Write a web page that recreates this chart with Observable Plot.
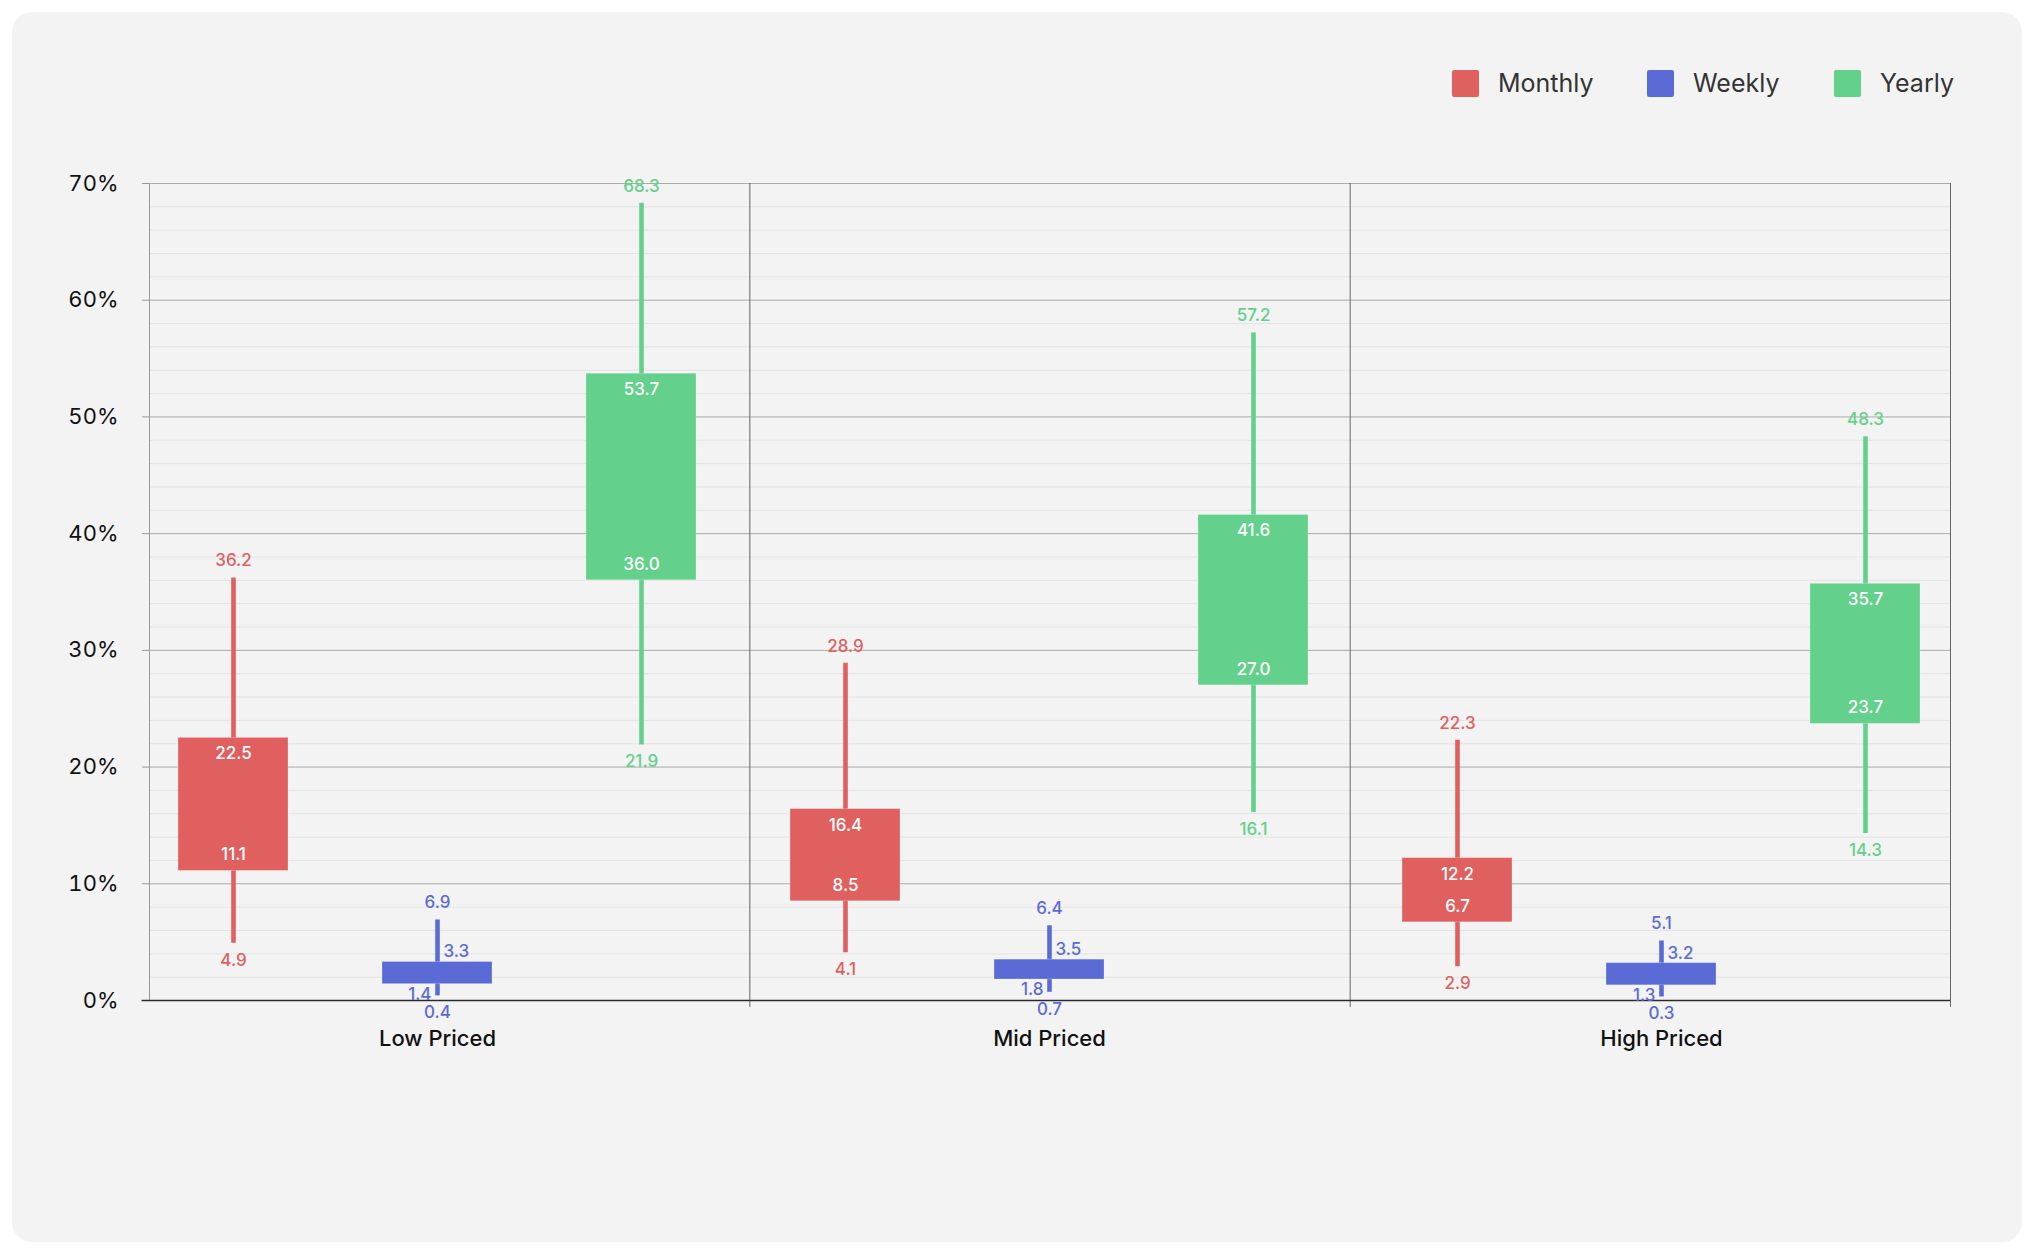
<!DOCTYPE html>
<html>
<head>
<meta charset="utf-8">
<script src="https://cdn.jsdelivr.net/npm/d3@7"></script>
<script src="https://cdn.jsdelivr.net/npm/@observablehq/plot@0.6"></script>
<style>
  html, body { margin: 0; padding: 0; background: #ffffff; }
  body { width: 2036px; height: 1256px; position: relative; overflow: hidden; font-family: Inter, "Noto Sans", sans-serif; }
  #card { position: absolute; left: 12px; top: 12px; width: 2010px; height: 1230px; background: #f3f3f3; border-radius: 20px; }
  .layer { position: absolute; left: 0; top: 0; }
  .legend-item { position: absolute; top: 69px; height: 28px; display: flex; align-items: center; font-size: 25px; color: #333; }
  .swatch { width: 27px; height: 27px; border-radius: 2px; margin-right: 19px; }
</style>
</head>
<body>
<div id="card"></div>
<div id="frame" class="layer"></div>
<div id="data" class="layer"></div>
<div id="legend"></div>
<script>
const categories = ["Low Priced", "Mid Priced", "High Priced"];
const seriesNames = ["Monthly", "Weekly", "Yearly"];
const seriesColors = ["#e06060", "#5b6bd5", "#63d08b"];
// rows: categories, columns: series (Monthly, Weekly, Yearly)
const whiskerLow  = [[4.9, 0.4, 21.9], [4.1, 0.7, 16.1], [2.9, 0.3, 14.3]];
const boxLow      = [[11.1, 1.4, 36.0], [8.5, 1.8, 27.0], [6.7, 1.3, 23.7]];
const boxHigh     = [[22.5, 3.3, 53.7], [16.4, 3.5, 41.6], [12.2, 3.2, 35.7]];
const whiskerHigh = [[36.2, 6.9, 68.3], [28.9, 6.4, 57.2], [22.3, 5.1, 48.3]];
const yTicks = [0, 10, 20, 30, 40, 50, 60, 70];
const yMinorTicks = d3.range(2, 70, 2).filter(d => d % 10 !== 0);

const keyOf = (c, s) => c + " · " + s;
const rows = categories.flatMap((c, i) => seriesNames.map((s, j) => ({
  category: c, series: s, key: keyOf(c, s),
  min: whiskerLow[i][j], q1: boxLow[i][j], q3: boxHigh[i][j], max: whiskerHigh[i][j]
})));

const W = 2036, H = 1100;
const dims = { width: W, height: H, marginTop: 183, marginBottom: 100, marginLeft: 149, marginRight: 86 };
const font = "Inter, 'Noto Sans', sans-serif";

// Structural layer: grid, dividers, y axis
const frame = Plot.plot({
  ...dims,
  style: { background: "transparent", fontFamily: font, overflow: "visible" },
  x: { domain: [0, categories.length], axis: null },
  y: { domain: [0, 70], axis: null },
  marks: [
    Plot.ruleY(yMinorTicks, { stroke: "#e3e3e3", strokeWidth: 1 }),
    Plot.ruleY(yTicks.filter(d => d > 0), { stroke: "#ababab", strokeWidth: 1 }),
    Plot.ruleX([0], { y1: 70, y2: 0, stroke: "#999", strokeWidth: 1 }),
    Plot.ruleX(d3.range(1, categories.length + 1), { y1: 70, y2: 0, insetBottom: -7, stroke: "#666", strokeWidth: 1 }),
    Plot.axisY(yTicks, { tickSize: 7, tickPadding: 24, tickFormat: d => d + "%", fontSize: 22, color: "#111", stroke: "#999" }),
    Plot.ruleY([0], { x1: -0.0125, x2: categories.length, stroke: "#2a2a2a", strokeWidth: 1.5 })
  ]
});
document.getElementById("frame").append(frame);

// Data layer
const data = Plot.plot({
  ...dims,
  style: { background: "transparent", fontFamily: font, overflow: "visible" },
  x: { type: "band", domain: rows.map(d => d.key), range: [83, 2015.5], padding: 0.459, axis: null },
  y: { domain: [0, 70], axis: null },
  color: { domain: seriesNames, range: seriesColors },
  marks: [
    Plot.ruleX(rows, { x: "key", y1: "min", y2: "max", stroke: "series", strokeWidth: 4.6 }),
    Plot.barY(rows, { x: "key", y1: "q1", y2: "q3", fill: "series", stroke: "#ffffff", strokeOpacity: 0.25, strokeWidth: 1 }),
    Plot.text(rows, { x: "key", y: "max", text: d => d.max.toFixed(1), fill: "series", dy: -17, fontSize: 17, fontWeight: 500 }),
    Plot.text(rows, { x: "key", y: "min", text: d => d.min.toFixed(1), fill: "series", dy: 17, fontSize: 17, fontWeight: 500 }),
    Plot.text(rows, { filter: d => d.series !== "Weekly", x: "key", y: "q3", text: d => d.q3.toFixed(1), fill: "white", dy: 16, fontSize: 17, fontWeight: 500 }),
    Plot.text(rows, { filter: d => d.series !== "Weekly", x: "key", y: "q1", text: d => d.q1.toFixed(1), fill: "white", dy: -16, fontSize: 17, fontWeight: 500 }),
    Plot.text(rows, { filter: d => d.series === "Weekly", x: "key", y: "q3", text: d => d.q3.toFixed(1), fill: "series", dy: -10, dx: 6, textAnchor: "start", fontSize: 17, fontWeight: 500 }),
    Plot.text(rows, { filter: d => d.series === "Weekly", x: "key", y: "q1", text: d => d.q1.toFixed(1), fill: "series", dy: 10, dx: -6, textAnchor: "end", fontSize: 17, fontWeight: 500 }),
    Plot.text(categories, { x: c => keyOf(c, "Weekly"), y: () => 0, text: d => d, dy: 38, fontSize: 22, fontWeight: 500, fill: "#111" })
  ]
});
document.getElementById("data").append(data);

// Legend
const legendX = [1452, 1647, 1834];
const legend = document.getElementById("legend");
seriesNames.forEach((s, i) => {
  const item = document.createElement("div");
  item.className = "legend-item";
  item.style.left = legendX[i] + "px";
  const sw = document.createElement("div");
  sw.className = "swatch";
  sw.style.background = seriesColors[i];
  const label = document.createElement("span");
  label.textContent = s;
  item.append(sw, label);
  legend.append(item);
});
</script>
</body>
</html>
